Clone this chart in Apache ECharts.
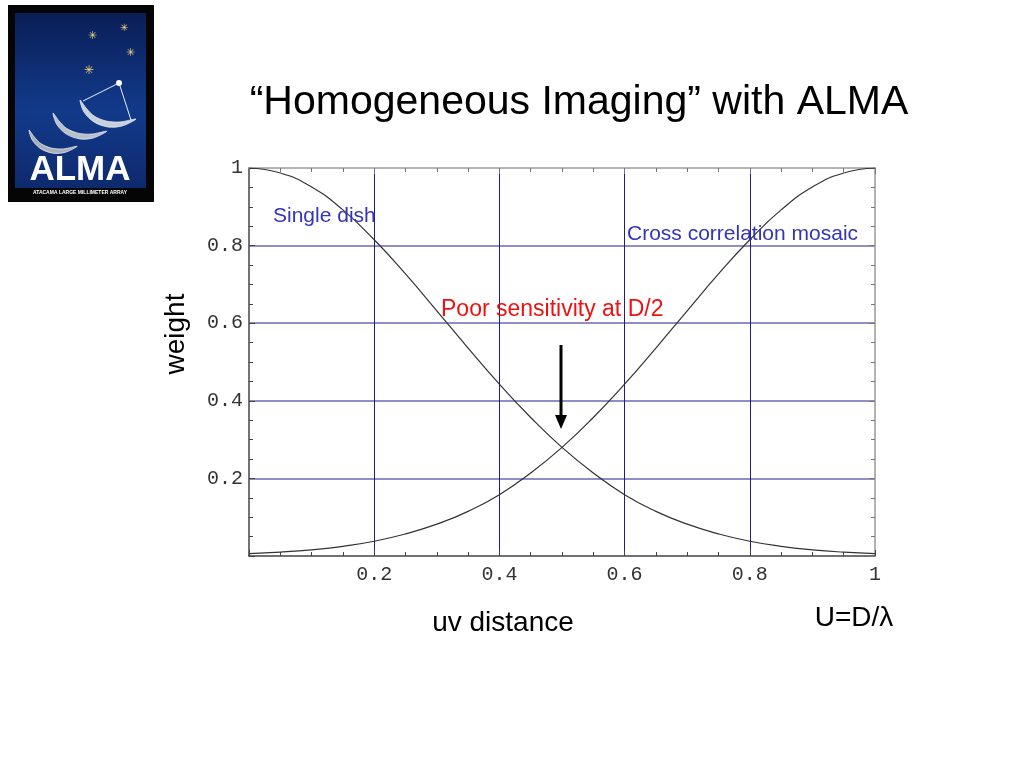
<!DOCTYPE html>
<html>
<head>
<meta charset="utf-8">
<script src="https://cdn.jsdelivr.net/npm/echarts@6/dist/echarts.min.js"></script>
<style>html,body{margin:0;padding:0;background:#fff;}#c{width:1024px;height:768px;}</style>
</head>
<body>
<div id="c"></div>
<script>
// uv distance samples (U = D/lambda)
const uvDistance = [0, 0.05, 0.1, 0.15, 0.2, 0.25, 0.3, 0.35, 0.4, 0.45, 0.5, 0.55, 0.6, 0.65, 0.7, 0.75, 0.8, 0.85, 0.9, 0.95, 1];
// weight
const singleDish = [1.0, 0.987, 0.951, 0.892, 0.815, 0.727, 0.632, 0.536, 0.443, 0.357, 0.28, 0.214, 0.158, 0.115, 0.082, 0.057, 0.038, 0.025, 0.016, 0.010, 0.006];
const crossCorrelationMosaic = [0.006, 0.010, 0.016, 0.025, 0.038, 0.057, 0.082, 0.115, 0.158, 0.214, 0.28, 0.357, 0.443, 0.536, 0.632, 0.727, 0.815, 0.892, 0.951, 0.987, 1.0];
const xTickValues = [0.2, 0.4, 0.6, 0.8, 1];
const yTickValues = [0.2, 0.4, 0.6, 0.8, 1];

const chart = echarts.init(document.getElementById('c'));
const monoFont = "'Liberation Mono', 'DejaVu Sans Mono', monospace";
const sansFont = "'Liberation Sans', Arial, sans-serif";

function tickFmt(list) {
  return function (v) {
    const hit = list.find(t => Math.abs(t - v) < 1e-9);
    if (hit === undefined) return '';
    return hit === 1 ? '1' : hit.toFixed(1);
  };
}

const frameAxis = {
  min: 0, max: 1, interval: 0.2,
  axisLine: { show: true, onZero: false, lineStyle: { color: '#9a9a9a', width: 1.5 } },
  axisTick: { show: true, inside: true, length: 6, lineStyle: { color: '#777' } },
  minorTick: { show: true, splitNumber: 4, length: 4, lineStyle: { color: '#777' } },
  axisLabel: { show: false },
  splitLine: { show: false }
};

// crescent shape for logo dishes (relative points)
const dishShape = [[0, 0], [4, 12], [14, 22], [28, 27], [42, 26], [56, 19], [40, 22], [26, 21], [14, 16], [6, 8]];
function dish(dx, dy, s, fill) {
  return { type: 'polygon', z: 22, shape: { points: dishShape.map(p => [dx + p[0] * s, dy + p[1] * s]), smooth: 0.3 },
    style: { fill: fill, stroke: '#e6eaf2', lineWidth: 0.8 } };
}

const option = {
  animation: false,
  backgroundColor: '#ffffff',
  grid: { left: 249, right: 149, top: 168, bottom: 212, containLabel: false },
  xAxis: [
    {
      type: 'value', position: 'bottom', min: 0, max: 1, interval: 0.2,
      axisLine: { show: true, onZero: false, lineStyle: { color: '#444', width: 1.5 } },
      axisTick: { show: true, inside: true, length: 6, lineStyle: { color: '#444' } },
      minorTick: { show: true, splitNumber: 4, length: 4, lineStyle: { color: '#444' } },
      axisLabel: { formatter: tickFmt(xTickValues), fontFamily: monoFont, fontSize: 20, color: '#333', margin: 9 },
      splitLine: { show: true, showMinLine: false, showMaxLine: false, lineStyle: { color: '#1e1e88', width: 1 } }
    },
    Object.assign({ type: 'value', position: 'top' }, frameAxis)
  ],
  yAxis: [
    {
      type: 'value', position: 'left', min: 0, max: 1, interval: 0.2,
      axisLine: { show: true, onZero: false, lineStyle: { color: '#444', width: 1.5 } },
      axisTick: { show: true, inside: true, length: 6, lineStyle: { color: '#444' } },
      minorTick: { show: true, splitNumber: 4, length: 4, lineStyle: { color: '#444' } },
      axisLabel: { formatter: tickFmt(yTickValues), fontFamily: monoFont, fontSize: 20, color: '#333', margin: 6 },
      splitLine: { show: true, showMinLine: false, showMaxLine: false, lineStyle: { color: '#6a6ab0', width: 1.5 } }
    },
    Object.assign({ type: 'value', position: 'right' }, frameAxis)
  ],
  series: [
    {
      name: 'Single dish', type: 'line', xAxisIndex: 0, yAxisIndex: 0,
      data: uvDistance.map((u, i) => [u, singleDish[i]]),
      smooth: 0.5, showSymbol: false, symbol: 'none',
      lineStyle: { color: '#333', width: 1.2 }, z: 5
    },
    {
      name: 'Cross correlation mosaic', type: 'line', xAxisIndex: 0, yAxisIndex: 0,
      data: uvDistance.map((u, i) => [u, crossCorrelationMosaic[i]]),
      smooth: 0.5, showSymbol: false, symbol: 'none',
      lineStyle: { color: '#333', width: 1.2 }, z: 5
    }
  ],
  graphic: [
    // Title
    { type: 'text', x: 579, y: 103, style: { text: '\u201CHomogeneous Imaging\u201D with ALMA', font: '41px ' + sansFont, fill: '#000', textAlign: 'center', textVerticalAlign: 'middle' } },
    // axis names
    { type: 'text', x: 176, y: 334, rotation: Math.PI / 2, style: { text: 'weight', font: '28px ' + sansFont, fill: '#000', textAlign: 'center', textVerticalAlign: 'middle' } },
    { type: 'text', x: 503, y: 623, style: { text: 'uv distance', font: '28px ' + sansFont, fill: '#000', textAlign: 'center', textVerticalAlign: 'middle' } },
    { type: 'text', x: 854, y: 618, style: { text: 'U=D/\u03BB', font: '28px ' + sansFont, fill: '#000', textAlign: 'center', textVerticalAlign: 'middle' } },
    // annotations
    { type: 'text', x: 273, y: 216, z: 10, style: { text: 'Single dish', font: '21px ' + sansFont, fill: '#3333bb', textAlign: 'left', textVerticalAlign: 'middle' } },
    { type: 'text', x: 627, y: 234, z: 10, style: { text: 'Cross correlation mosaic', font: '21px ' + sansFont, fill: '#3333bb', textAlign: 'left', textVerticalAlign: 'middle' } },
    { type: 'text', x: 441, y: 310, z: 10, style: { text: 'Poor sensitivity at D/2', font: '23px ' + sansFont, fill: '#ee1111', textAlign: 'left', textVerticalAlign: 'middle' } },
    // arrow
    { type: 'line', z: 10, shape: { x1: 561, y1: 345, x2: 561, y2: 418 }, style: { stroke: '#000', lineWidth: 3 } },
    { type: 'polygon', z: 10, shape: { points: [[555, 415], [567, 415], [561, 429]] }, style: { fill: '#000' } },
    // Logo
    { type: 'rect', z: 20, shape: { x: 8, y: 5, width: 146, height: 197 }, style: { fill: '#050505' } },
    { type: 'rect', z: 21, shape: { x: 15, y: 13, width: 131, height: 175 },
      style: { fill: new echarts.graphic.LinearGradient(0, 0, 0, 1, [
        { offset: 0, color: '#0a1e56' }, { offset: 0.55, color: '#123a8a' }, { offset: 1, color: '#0e2a6e' }]) } },
    { type: 'text', z: 22, x: 92, y: 36, style: { text: '\u2733', font: '11px sans-serif', fill: '#f0d878', textAlign: 'center', textVerticalAlign: 'middle' } },
    { type: 'text', z: 22, x: 124, y: 28, style: { text: '\u2733', font: '10px sans-serif', fill: '#f0d878', textAlign: 'center', textVerticalAlign: 'middle' } },
    { type: 'text', z: 22, x: 130, y: 53, style: { text: '\u2733', font: '11px sans-serif', fill: '#f0d878', textAlign: 'center', textVerticalAlign: 'middle' } },
    { type: 'text', z: 22, x: 89, y: 71, style: { text: '\u2733', font: '12px sans-serif', fill: '#f0d878', textAlign: 'center', textVerticalAlign: 'middle' } },
    { type: 'line', z: 22, shape: { x1: 119, y1: 83, x2: 83, y2: 101 }, style: { stroke: '#e8eef8', lineWidth: 1 } },
    { type: 'line', z: 22, shape: { x1: 119, y1: 83, x2: 131, y2: 120 }, style: { stroke: '#e8eef8', lineWidth: 1 } },
    { type: 'circle', z: 23, shape: { cx: 119, cy: 83, r: 3 }, style: { fill: '#ffffff' } },
    dish(80, 100, 1.0, '#c8d0dc'),
    dish(53, 113, 0.96, '#b8c0cc'),
    dish(29, 130, 0.86, '#a8b0bc'),
    { type: 'text', z: 22, x: 80, y: 170, style: { text: 'ALMA', font: 'bold 35px ' + sansFont, fill: '#ffffff', textAlign: 'center', textVerticalAlign: 'middle' } },
    { type: 'text', z: 22, x: 80, y: 193, style: { text: 'ATACAMA LARGE MILLIMETER ARRAY', font: 'bold 5px ' + sansFont, fill: '#ffffff', textAlign: 'center', textVerticalAlign: 'middle' } }
  ]
};
chart.setOption(option);
</script>
</body>
</html>
